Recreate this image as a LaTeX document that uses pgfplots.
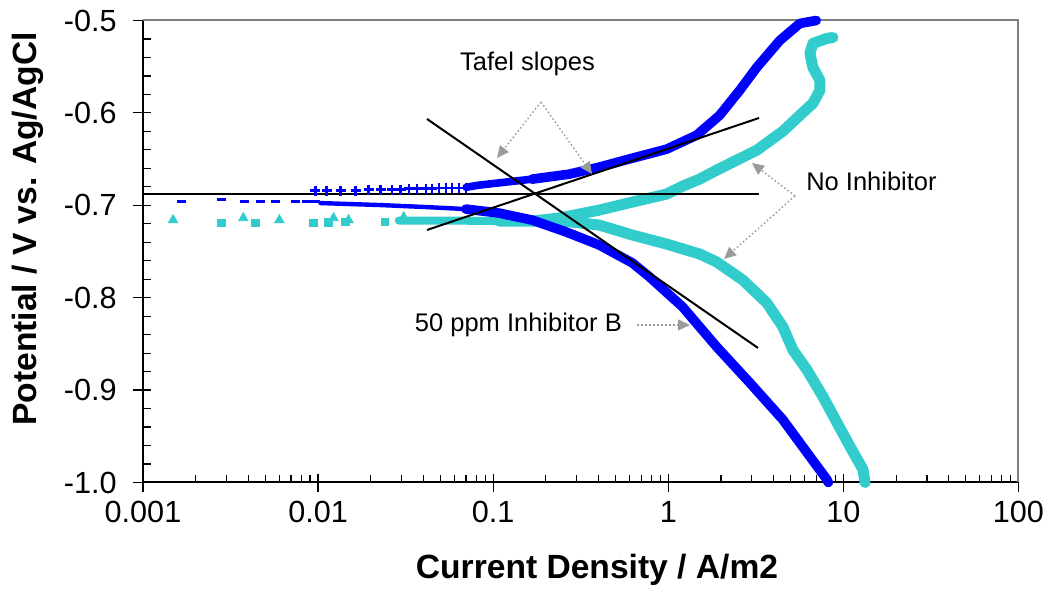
\documentclass[border=0pt]{standalone}
\usepackage{fontspec}
\setmainfont{Liberation Sans}
\usepackage{pgfplots}
\pgfplotsset{compat=1.18}
\usetikzlibrary{arrows.meta}
\definecolor{myblue}{RGB}{0,0,255}
\definecolor{mycyan}{RGB}{51,204,204}
\definecolor{annogray}{RGB}{155,155,155}
\definecolor{framegray}{RGB}{128,128,128}
\newcommand\tickfont{\fontsize{15.3}{18}\selectfont}
\newcommand\labfont{\bfseries\fontsize{16.8}{20}\selectfont}
\newcommand\annfont{\fontsize{12.75}{15}\selectfont}
\begin{document}
\begin{tikzpicture}
\path[use as bounding box] (0,0) rectangle (525.5pt,301.5pt);
\begin{axis}[
  at={(71.5pt,60.25pt)}, anchor=south west,
  scale only axis, width=437.75pt, height=231pt,
  xmode=log, xmin=0.001, xmax=100, ymin=-1, ymax=-0.5,
  axis x line*=bottom, axis y line*=left,
  axis line style={black, line width=1pt, -},
  xtick={0.001,0.01,0.1,1,10,100},
  xticklabels={0.001,0.01,0.1,1,10,100},
  minor xtick={0.002,0.003,0.004,0.005,0.006,0.007,0.008,0.009,
               0.02,0.03,0.04,0.05,0.06,0.07,0.08,0.09,
               0.2,0.3,0.4,0.5,0.6,0.7,0.8,0.9,
               2,3,4,5,6,7,8,9,20,30,40,50,60,70,80,90},
  ytick={-1,-0.9,-0.8,-0.7,-0.6,-0.5},
  yticklabels={-1.0,-0.9,-0.8,-0.7,-0.6,-0.5},
  minor ytick={-0.98,-0.96,-0.94,-0.92,-0.88,-0.86,-0.84,-0.82,
               -0.78,-0.76,-0.74,-0.72,-0.68,-0.66,-0.64,-0.62,
               -0.58,-0.56,-0.54,-0.52},
  tick align=inside,
  major tick length=9pt, minor tick length=3.8pt,
  every major x tick/.append style={yshift=-5pt},
  every major y tick/.append style={xshift=-5pt},
  tick style={black, line width=0.6pt},
  xticklabel style={font=\tickfont, inner sep=0pt, anchor=north, yshift=-9.25pt},
  yticklabel style={font=\tickfont, inner sep=0pt, anchor=east, xshift=-13pt},
  clip=false,
]
\draw[framegray, line width=1pt] (rel axis cs:0,1) -- (rel axis cs:1,1) -- (rel axis cs:1,0);

% No Inhibitor: sparse markers
\addplot[mycyan, only marks, mark=square*, mark size=1.9pt] coordinates {
(0.002797,-0.7192) (0.00438,-0.7192) (0.00941,-0.7192) (0.01147,-0.7185) (0.01435,-0.7180) (0.02401,-0.7180)};
\addplot[mycyan, only marks, mark=triangle*, mark size=2.7pt] coordinates {
(0.001485,-0.7160) (0.003739,-0.7138) (0.00601,-0.7160) (0.01225,-0.7138) (0.01493,-0.7160) (0.03084,-0.7128)};
% No Inhibitor: anodic branch
\addplot[mycyan, line width=4pt, line join=round, line cap=round] coordinates {
(0.02888,-0.7165) (0.05582,-0.7165) (0.1079,-0.7171)};
\addplot[mycyan, line width=5.5pt, line join=round, line cap=round] coordinates {
(0.1079,-0.7171) (0.1668,-0.7171) (0.2381,-0.7138)
(0.4036,-0.7052) (0.6237,-0.6965) (0.9766,-0.6879) (1.206,-0.6793) (1.509,-0.6717)
(1.888,-0.6620) (2.332,-0.6533) (3.201,-0.6404) (4.510,-0.6199) (5.642,-0.6026)
(6.697,-0.5896) (7.345,-0.5756) (7.345,-0.5648) (6.697,-0.5508) (6.437,-0.5356)
(6.697,-0.5248) (8.054,-0.5194) (8.716,-0.5184)};
% No Inhibitor: cathodic branch
\addplot[mycyan, line width=5.5pt, line join=round, line cap=round] coordinates {
(0.1668,-0.7171) (0.2612,-0.7175) (0.4036,-0.7214) (0.6237,-0.7322) (0.9766,-0.7419)
(1.509,-0.7527) (1.888,-0.7613) (2.661,-0.7808) (3.651,-0.8056) (4.510,-0.8315)
(5.144,-0.8564) (6.187,-0.8780) (7.641,-0.9071) (9.191,-0.9352) (10.91,-0.9611)
(12.95,-0.9860) (13.29,-1.0)};

% 50 ppm Inhibitor B: cathodic sparse markers
\addplot[myblue, only marks, mark=-, mark size=2.2pt, line width=1.6pt] coordinates {
(0.001651,-0.6962) (0.002797,-0.6936) (0.003789,-0.6962) (0.004679,-0.6962)
(0.005702,-0.6962) (0.007424,-0.6962) (0.008584,-0.6962) (0.00966,-0.6962)};
\addplot[myblue, line width=2.2pt, line join=round, line cap=round] coordinates {
(0.01032,-0.6976) (0.02307,-0.6998) (0.04121,-0.7019) (0.06987,-0.7041)};
\addplot[myblue, line width=4.8pt, line join=round, line cap=round] coordinates {
(0.06987,-0.7041) (0.1079,-0.7084) (0.1668,-0.7160) (0.2612,-0.7289) (0.4036,-0.7430)
(0.6237,-0.7624) (0.7807,-0.7775) (1.206,-0.8099) (1.888,-0.8531) (2.918,-0.8920)
(4.510,-0.9320) (6.437,-0.9719) (8.05,-0.9968) (8.2,-1.0)};
% 50 ppm Inhibitor B: anodic sparse markers
\addplot[myblue, only marks, mark=+, mark size=2.5pt, line width=1.2pt] coordinates {
(0.00966,-0.684) (0.01117,-0.684) (0.01344,-0.684) (0.01638,-0.684) (0.01944,-0.683)
(0.02277,-0.683) (0.02633,-0.683) (0.02963,-0.683) (0.03294,-0.682) (0.03660,-0.682)
(0.04121,-0.682) (0.04461,-0.682) (0.04893,-0.681) (0.05367,-0.681) (0.05808,-0.681)
(0.06370,-0.681) (0.06987,-0.681)};
\addplot[myblue, line width=3.8pt, line join=round, line cap=round] coordinates {
(0.0700,-0.6805) (0.08293,-0.6782) (0.1668,-0.6717)};
\addplot[myblue, line width=4.8pt, line join=round, line cap=round] coordinates {
(0.1668,-0.6717) (0.2716,-0.6663) (0.4036,-0.6587)
(0.6237,-0.6490) (0.9766,-0.6393) (1.450,-0.6242) (1.965,-0.6026) (2.557,-0.5756)
(3.201,-0.5508) (4.335,-0.5216) (5.642,-0.5032) (7.0,-0.500)};

% Tafel lines
\addplot[black, line width=1pt] coordinates {(0.001,-0.6878) (3.30,-0.6878)};
\addplot[black, line width=1pt] coordinates {(0.0419,-0.7267) (3.30,-0.6055)};
\addplot[black, line width=1pt] coordinates {(0.0419,-0.6066) (3.253,-0.8544)};
\end{axis}

% annotations
\tikzset{ann/.style={annogray, line width=0.7pt, dash pattern=on 0.8pt off 1.2pt,
  -{Triangle[length=6pt,width=5.5pt]}}}
\node[font=\annfont] at (263.75pt,269.5pt) {Tafel slopes};
\draw[ann] (270.5pt,250.5pt) -- (248.5pt,222.5pt);
\draw[ann] (270.5pt,250.5pt) -- (296pt,214.5pt);
\node[font=\annfont] at (435.75pt,211pt) {No Inhibitor};
\draw[ann] (397.5pt,203.5pt) -- (376pt,220pt);
\draw[ann] (397.5pt,203.5pt) -- (362pt,172pt);
\node[font=\annfont] at (259.2pt,139.2pt) {50 ppm Inhibitor B};
\draw[ann] (318.5pt,139pt) -- (345pt,139pt);

% axis titles
\node[rotate=90, font=\labfont] at (14pt,187pt) {Potential / V vs. Ag/AgCl};
\node[font=\labfont] at (298.5pt,16.5pt) {Current Density / A/m2};
\end{tikzpicture}
\end{document}
